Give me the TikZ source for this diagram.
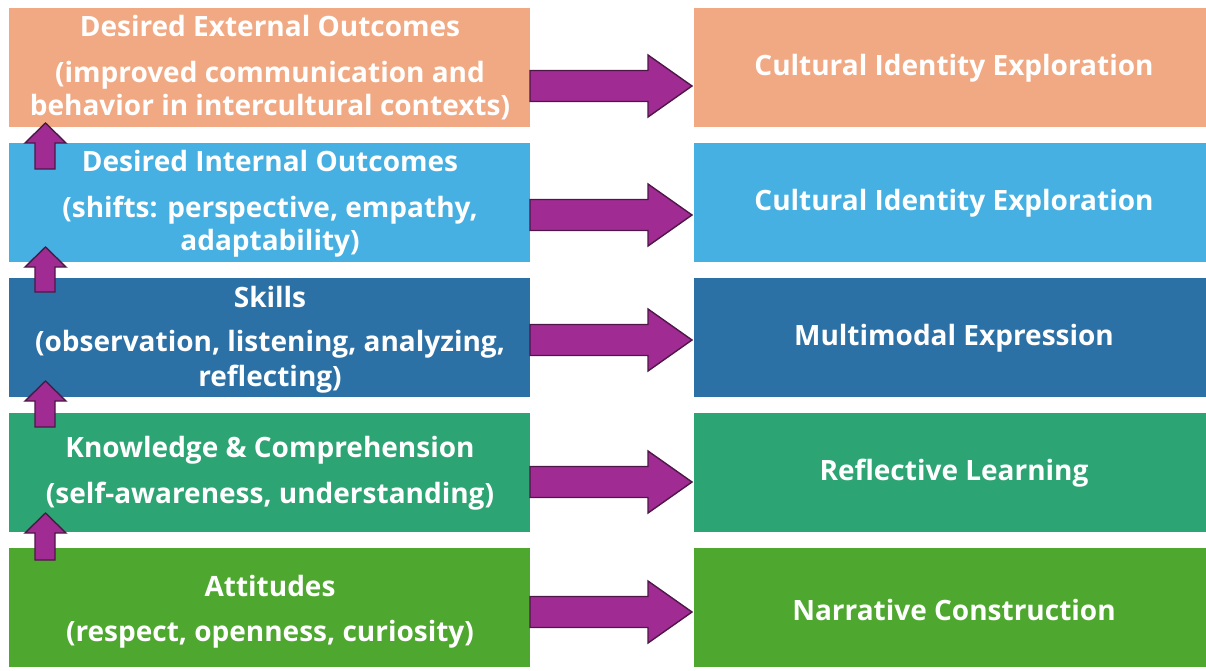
\documentclass[tikz,border=0pt]{standalone}
\usepackage{fontspec}
\setmainfont{Open Sans}
\usetikzlibrary{positioning}
\definecolor{boxorange}{HTML}{F1A983}
\definecolor{boxsky}{HTML}{45B0E1}
\definecolor{boxblue}{HTML}{2C71A5}
\definecolor{boxteal}{HTML}{2DA473}
\definecolor{boxgreen}{HTML}{4EA72E}
\definecolor{arrowfill}{HTML}{A02B93}
\definecolor{arrowline}{HTML}{4F1748}
\tikzset{
  band/.style={draw=none, inner sep=0pt, minimum height=119pt, anchor=north west},
  leftband/.style={band, minimum width=521pt},
  rightband/.style={band, minimum width=512pt},
  lbl/.style={text=white, font=\bfseries\fontsize{28}{28}\selectfont, inner sep=0pt, anchor=center, yshift=-2pt},
  blockarrow/.style={fill=arrowfill, draw=arrowline, line width=1.4pt, line join=miter},
}
% right-pointing block arrow centred at height #1
\newcommand{\rightblock}[1]{%
  \draw[blockarrow] (530,#1-15.5) -- (648,#1-15.5) -- (648,#1-31) -- (692,#1)
    -- (648,#1+31) -- (648,#1+15.5) -- (530,#1+15.5) -- cycle;}
% upward block arrow from base #1 to tip #2
\newcommand{\upblock}[2]{%
  \draw[blockarrow] (35,#1) -- (35,#2+20) -- (25,#2+20) -- (45.5,#2)
    -- (66,#2+20) -- (55,#2+20) -- (55,#1) -- cycle;}
\begin{document}
\begin{tikzpicture}[x=1pt,y=-1pt]
  \useasboundingbox (0,0) rectangle (1206,670);

  % left column
  \node[leftband, fill=boxorange] (L1) at (9,8) {};
  \node[leftband, fill=boxsky]    (L2) at (9,143) {};
  \node[leftband, fill=boxblue]   (L3) at (9,278) {};
  \node[leftband, fill=boxteal]   (L4) at (9,413) {};
  \node[leftband, fill=boxgreen]  (L5) at (9,548) {};

  % right column
  \node[rightband, fill=boxorange] (R1) at (694,8) {};
  \node[rightband, fill=boxsky]    (R2) at (694,143) {};
  \node[rightband, fill=boxblue]   (R3) at (694,278) {};
  \node[rightband, fill=boxteal]   (R4) at (694,413) {};
  \node[rightband, fill=boxgreen]  (R5) at (694,548) {};

  % left labels
  \node[lbl] (t1a) at (270,24)  {Desired External Outcomes};
  \node[lbl] (t1b) at (270,73)  {(improved communication and};
  \node[lbl] (t1c) at (270,105) {behavior in intercultural contexts)};
  \node[lbl] (t2a) at (270,159) {Desired Internal Outcomes};
  \node[lbl] (t2b) at (270,208) {(shifts: perspective, empathy,};
  \node[lbl] (t2c) at (270,241) {adaptability)};
  \node[lbl] (t3a) at (270,295) {Skills};
  \node[lbl] (t3b) at (270,342) {(observation, listening, analyzing,};
  \node[lbl] (t3c) at (270,377) {reflecting)};
  \node[lbl] (t4a) at (270,448) {Knowledge \& Comprehension};
  \node[lbl] (t4b) at (270,494) {(self-awareness, understanding)};
  \node[lbl] (t5a) at (270,584) {Attitudes};
  \node[lbl] (t5b) at (270,632) {(respect, openness, curiosity)};

  % right labels
  \node[lbl] (s1) at (954,66)  {Cultural Identity Exploration};
  \node[lbl] (s2) at (954,201) {Cultural Identity Exploration};
  \node[lbl] (s3) at (954,336) {Multimodal Expression};
  \node[lbl] (s4) at (954,471) {Reflective Learning};
  \node[lbl] (s5) at (954,608) {Narrative Construction};

  % arrows across
  \rightblock{86}
  \rightblock{215}
  \rightblock{340}
  \rightblock{482}
  \rightblock{612}

  % arrows upward
  \upblock{169}{123}
  \upblock{292}{247}
  \upblock{427}{381}
  \upblock{560}{513}
\end{tikzpicture}
\end{document}
